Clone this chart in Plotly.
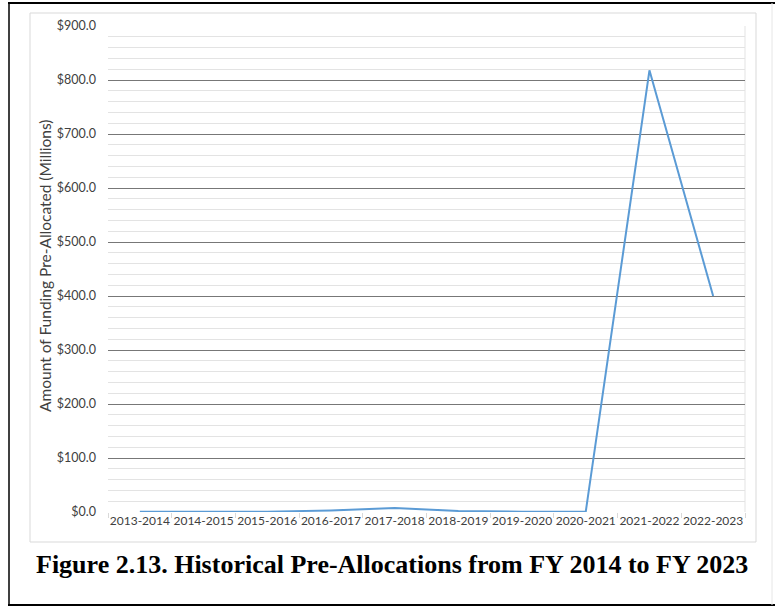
import plotly.graph_objects as go

# fiscal years and pre-allocated funding (millions of dollars)
fiscal_years = ["2013-2014", "2014-2015", "2015-2016", "2016-2017", "2017-2018",
                "2018-2019", "2019-2020", "2020-2021", "2021-2022", "2022-2023"]
funding = [0.5, 0.5, 0.5, 3.0, 7.5, 2.0, 0.5, 0.5, 818.0, 400.0]

y_ticks = [0, 100, 200, 300, 400, 500, 600, 700, 800, 900]
y_tick_text = ["$%.1f" % v for v in y_ticks]

W, H = 775, 607
L, R, T, B = 108, 30, 26, 95
PW, PH = W - L - R, H - T - B


def px(x):
    # pixel x -> paper x
    return (x - L) / PW


def py(y):
    # pixel y (from top) -> paper y
    return (H - B - y) / PH


fig = go.Figure()
fig.add_trace(go.Scatter(
    x=fiscal_years,
    y=funding,
    mode="lines",
    line=dict(color="#5b9bd5", width=2),
    showlegend=False,
))

tick_font = dict(family="Lato, Open Sans, sans-serif", size=12, color="#404040")


def frame_line(x0, y0, x1, y1, color, width):
    return dict(type="line", xref="paper", yref="paper",
                x0=px(x0), x1=px(x1), y0=py(y0), y1=py(y1),
                line=dict(color=color, width=width), layer="below")


fig.update_layout(
    width=W, height=H,
    margin=dict(l=L, r=R, t=T, b=B),
    paper_bgcolor="white",
    plot_bgcolor="white",
    xaxis=dict(
        type="category",
        tickson="boundaries",
        ticks="outside",
        ticklen=5,
        tickcolor="#d9d9d9",
        tickangle=0,
        showgrid=False,
        showline=False,
        tickfont=tick_font,
        range=[-0.5, 9.5],
    ),
    yaxis=dict(
        range=[0, 900],
        tickvals=y_ticks,
        ticktext=y_tick_text,
        tickfont=dict(family="Lato, Open Sans, sans-serif", size=12.5, color="#404040"),
        ticklabelstandoff=11,
        showgrid=True,
        gridcolor="#777777",
        gridwidth=1.4,
        zeroline=False,
        showline=False,
        minor=dict(dtick=20, showgrid=True, gridcolor="#e3e3e3", gridwidth=1),
    ),
    shapes=[
        # outer frame
        frame_line(8, 3, 775, 3, "black", 2),
        frame_line(9, 3, 9, 605, "black", 1.5),
        frame_line(8, 605, 775, 605, "black", 2),
        frame_line(772, 3, 772, 605, "#e6e6e6", 1),
        # chart area box
        dict(type="rect", xref="paper", yref="paper",
             x0=px(30), x1=px(756), y0=py(542), y1=py(13),
             line=dict(color="#d9d9d9", width=1), layer="below"),
        # right edge of plot area
        dict(type="line", xref="paper", yref="paper",
             x0=1, x1=1, y0=0, y1=1,
             line=dict(color="#e3e3e3", width=1), layer="below"),
    ],
    annotations=[
        dict(text="Amount of Funding Pre-Allocated (Millions)",
             xref="paper", yref="paper", x=px(45), y=py(266),
             textangle=-90, xanchor="center", yanchor="middle", showarrow=False,
             font=dict(family="Lato, Open Sans, sans-serif", size=15.5, color="#404040")),
        dict(text="<b>Figure 2.13. Historical Pre-Allocations from FY 2014 to FY 2023</b>",
             xref="paper", yref="paper", x=px(392), y=py(564),
             xanchor="center", yanchor="middle", showarrow=False,
             font=dict(family="Liberation Serif, Times New Roman, serif", size=26, color="black")),
    ],
)

fig.write_html("out.html", config={"displayModeBar": False},
               post_script="document.body.style.margin='0';")
